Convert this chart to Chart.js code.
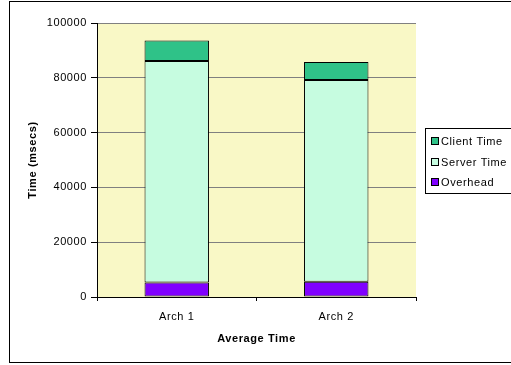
<!DOCTYPE html>
<html>
<head>
<meta charset="utf-8">
<script src="https://cdn.jsdelivr.net/npm/chart.js@4/dist/chart.umd.min.js"></script>
<style>
  html, body { margin: 0; padding: 0; background: #fff; }
  canvas { display: block; }
</style>
</head>
<body>
<canvas id="chart" width="511" height="365"></canvas>
<script>
// Average time per architecture, split into its components (msecs)
const categories = ['Arch 1', 'Arch 2'];
const overhead   = [5300, 5600];
const serverTime = [80800, 73600];
const clientTime = [7500, 6600];
const yTickValues = [0, 20000, 40000, 60000, 80000, 100000];

const FONT = "'Liberation Sans', Arial, sans-serif";

// Plot-area fill, frame around the whole chart and the boxed legend
const decorations = {
  id: 'decorations',
  beforeDraw(chart) {
    const { ctx, chartArea: a } = chart;
    ctx.letterSpacing = '0.6px';
    ctx.save();
    ctx.fillStyle = '#F9F8C6';
    ctx.fillRect(a.left, a.top, a.right - a.left, a.bottom - a.top);
    ctx.restore();
  },
  afterDraw(chart) {
    const ctx = chart.ctx;
    ctx.save();
    ctx.strokeStyle = '#000';
    ctx.lineWidth = 1;
    ctx.strokeRect(9.5, 1.5, 520, 361);

    // legend box
    ctx.fillStyle = '#fff';
    ctx.fillRect(425, 128, 100, 65);
    ctx.strokeRect(425.5, 128.5, 100, 65);
    const items = chart.data.datasets.slice().reverse();
    ctx.font = '11px ' + FONT;
    ctx.textBaseline = 'middle';
    ctx.textAlign = 'left';
    items.forEach((d, i) => {
      const cy = Math.round(141 + i * 20.5);
      ctx.fillStyle = d.backgroundColor;
      ctx.fillRect(431, cy - 4, 8, 8);
      ctx.strokeStyle = '#000';
      ctx.strokeRect(431.5, cy - 3.5, 7, 7);
      ctx.fillStyle = '#000';
      ctx.fillText(d.label, 441, cy + 0.5);
    });
    ctx.restore();
  }
};

new Chart(document.getElementById('chart'), {
  type: 'bar',
  data: {
    labels: categories,
    datasets: [
      { label: 'Overhead',    data: overhead,   backgroundColor: '#8000FF' },
      { label: 'Server Time', data: serverTime, backgroundColor: '#C6FCE0' },
      { label: 'Client Time', data: clientTime, backgroundColor: '#2FC288' }
    ]
  },
  options: {
    responsive: false,
    animation: false,
    devicePixelRatio: 1,
    layout: { padding: { top: 23, right: 95, bottom: 0, left: 0 } },
    datasets: {
      bar: {
        borderColor: '#000',
        borderWidth: 1,
        borderSkipped: false,
        barPercentage: 0.404,
        categoryPercentage: 1
      }
    },
    plugins: {
      legend: { display: false },
      tooltip: { enabled: false }
    },
    scales: {
      x: {
        stacked: true,
        afterFit(s) { s.height = 68; },
        grid: {
          offset: true,
          drawOnChartArea: false,
          drawTicks: true,
          tickLength: 4,
          color: '#000'
        },
        border: { color: '#000', width: 1 },
        ticks: {
          color: '#000',
          padding: 9,
          font: { family: FONT, size: 11 }
        },
        title: {
          display: true,
          text: 'Average Time',
          color: '#000',
          font: { family: FONT, size: 11, weight: 'bold' },
          padding: { top: 0, bottom: 19 }
        }
      },
      y: {
        stacked: true,
        min: 0,
        max: 100000,
        afterFit(s) { s.width = 97; },
        afterBuildTicks(s) { s.ticks = yTickValues.map(v => ({ value: v })); },
        grid: {
          color: '#808080',
          tickColor: '#000',
          tickLength: 6,
          drawTicks: true
        },
        border: { color: '#000', width: 1 },
        ticks: {
          color: '#000',
          padding: 4,
          font: { family: FONT, size: 11 },
          callback: v => String(v)
        },
        title: {
          display: true,
          text: 'Time (msecs)',
          color: '#000',
          font: { family: FONT, size: 11, weight: 'bold' },
          padding: { top: 26, bottom: 0 }
        }
      }
    }
  },
  plugins: [decorations]
});
</script>
</body>
</html>
